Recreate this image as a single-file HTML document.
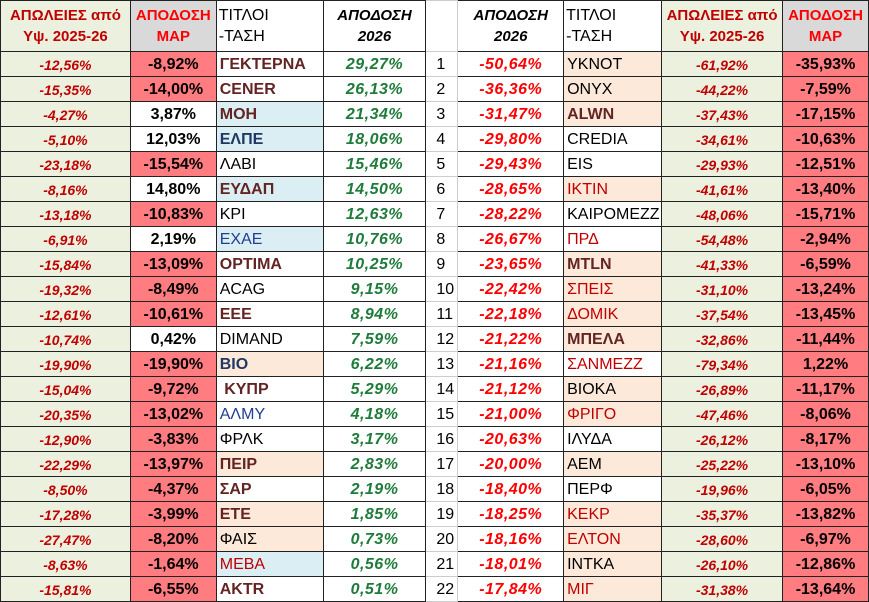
<!DOCTYPE html>
<html><head><meta charset="utf-8"><style>
body{margin:0;background:#fff;width:869px;height:602px;overflow:hidden;font-family:"Liberation Sans",Arial,sans-serif}
table{border-collapse:collapse;table-layout:fixed;position:absolute;left:0;top:0}
td{border:1px solid #222;padding:0;height:23px;font-size:15px;white-space:nowrap;overflow:hidden;padding-top:1px;line-height:20px}
tr.h td{height:50px;font-size:15px;font-weight:bold;text-align:center;line-height:21px;padding-top:0}
.c1{background:#EBF1DE;color:#C00000;font-weight:bold;font-style:italic;text-align:center;font-size:14px}
.c2{text-align:center;font-weight:bold;font-size:16px}
.r{background:#FF7C80}
.nm{padding-left:3px;font-size:16px}
.c4{text-align:center;color:#1E7B3A;font-weight:bold;font-style:italic;font-size:16px;letter-spacing:0.5px}
.c5{text-align:left;padding-left:10px;font-size:16px;border-color:#ccc}
.c6{text-align:center;color:#FF0000;font-weight:bold;font-style:italic;font-size:16px;letter-spacing:0.5px}
.b{background:#DAEEF3}.p{background:#FDE9D9}
.br{color:#632523;font-weight:bold}.db{color:#1F3864;font-weight:bold}.bl{color:#1F3F8F}.rd{color:#C00000}
</style></head><body>
<table>
<colgroup><col style="width:130px"><col style="width:86px"><col style="width:107px"><col style="width:103px"><col style="width:32px"><col style="width:106px"><col style="width:98px"><col style="width:121px"><col style="width:86px"></colgroup>
<tr class="h"><td style="background:#EBF1DE;color:#C00000">ΑΠΩΛΕΙΕΣ από<br>Υψ. 2025-26</td><td style="background:#D9D9D9;color:#FF0000">ΑΠΟΔΟΣΗ<br>MAP</td><td style="text-align:left;font-weight:normal;font-size:16px;padding-left:2px">ΤΙΤΛΟΙ<br>-ΤΑΣΗ</td><td style="font-style:italic">ΑΠΟΔΟΣΗ<br>2026</td><td style="border-color:#ccc"></td><td style="font-style:italic">ΑΠΟΔΟΣΗ<br>2026</td><td style="text-align:left;font-weight:normal;font-size:16px;padding-left:2px">ΤΙΤΛΟΙ<br>-ΤΑΣΗ</td><td style="background:#EBF1DE;color:#C00000">ΑΠΩΛΕΙΕΣ από<br>Υψ. 2025-26</td><td style="background:#D9D9D9;color:#FF0000">ΑΠΟΔΟΣΗ<br>MAP</td></tr>
<tr><td class="c1">-12,56%</td><td class="c2 r">-8,92%</td><td class="nm br">ΓΕΚΤΕΡΝΑ</td><td class="c4">29,27%</td><td class="c5">1</td><td class="c6">-50,64%</td><td class="nm p">YKNOT</td><td class="c1">-61,92%</td><td class="c2 r">-35,93%</td></tr>
<tr><td class="c1">-15,35%</td><td class="c2 r">-14,00%</td><td class="nm br">CENER</td><td class="c4">26,13%</td><td class="c5">2</td><td class="c6">-36,36%</td><td class="nm p">ONYX</td><td class="c1">-44,22%</td><td class="c2 r">-7,59%</td></tr>
<tr><td class="c1">-4,27%</td><td class="c2">3,87%</td><td class="nm br b">ΜΟΗ</td><td class="c4">21,34%</td><td class="c5">3</td><td class="c6">-31,47%</td><td class="nm p br">ALWN</td><td class="c1">-37,43%</td><td class="c2 r">-17,15%</td></tr>
<tr><td class="c1">-5,10%</td><td class="c2">12,03%</td><td class="nm db b">ΕΛΠΕ</td><td class="c4">18,06%</td><td class="c5">4</td><td class="c6">-29,80%</td><td class="nm">CREDIA</td><td class="c1">-34,61%</td><td class="c2 r">-10,63%</td></tr>
<tr><td class="c1">-23,18%</td><td class="c2 r">-15,54%</td><td class="nm">ΛΑΒΙ</td><td class="c4">15,46%</td><td class="c5">5</td><td class="c6">-29,43%</td><td class="nm">EIS</td><td class="c1">-29,93%</td><td class="c2 r">-12,51%</td></tr>
<tr><td class="c1">-8,16%</td><td class="c2">14,80%</td><td class="nm br b">ΕΥΔΑΠ</td><td class="c4">14,50%</td><td class="c5">6</td><td class="c6">-28,65%</td><td class="nm p rd">ΙΚΤΙΝ</td><td class="c1">-41,61%</td><td class="c2 r">-13,40%</td></tr>
<tr><td class="c1">-13,18%</td><td class="c2 r">-10,83%</td><td class="nm">KPI</td><td class="c4">12,63%</td><td class="c5">7</td><td class="c6">-28,22%</td><td class="nm">ΚΑΙΡΟΜΕΖΖ</td><td class="c1">-48,06%</td><td class="c2 r">-15,71%</td></tr>
<tr><td class="c1">-6,91%</td><td class="c2">2,19%</td><td class="nm bl b">ΕΧΑΕ</td><td class="c4">10,76%</td><td class="c5">8</td><td class="c6">-26,67%</td><td class="nm rd">ΠΡΔ</td><td class="c1">-54,48%</td><td class="c2 r">-2,94%</td></tr>
<tr><td class="c1">-15,84%</td><td class="c2 r">-13,09%</td><td class="nm br">OPTIMA</td><td class="c4">10,25%</td><td class="c5">9</td><td class="c6">-23,65%</td><td class="nm p br">MTLN</td><td class="c1">-41,33%</td><td class="c2 r">-6,59%</td></tr>
<tr><td class="c1">-19,32%</td><td class="c2 r">-8,49%</td><td class="nm">ACAG</td><td class="c4">9,15%</td><td class="c5">10</td><td class="c6">-22,42%</td><td class="nm p rd">ΣΠΕΙΣ</td><td class="c1">-31,10%</td><td class="c2 r">-13,24%</td></tr>
<tr><td class="c1">-12,61%</td><td class="c2 r">-10,61%</td><td class="nm br">EEE</td><td class="c4">8,94%</td><td class="c5">11</td><td class="c6">-22,18%</td><td class="nm p rd">ΔΟΜΙΚ</td><td class="c1">-37,54%</td><td class="c2 r">-13,45%</td></tr>
<tr><td class="c1">-10,74%</td><td class="c2">0,42%</td><td class="nm">DIMAND</td><td class="c4">7,59%</td><td class="c5">12</td><td class="c6">-21,22%</td><td class="nm p br">ΜΠΕΛΑ</td><td class="c1">-32,86%</td><td class="c2 r">-11,44%</td></tr>
<tr><td class="c1">-19,90%</td><td class="c2 r">-19,90%</td><td class="nm db p">ΒΙΟ</td><td class="c4">6,22%</td><td class="c5">13</td><td class="c6">-21,16%</td><td class="nm rd">ΣΑΝΜΕΖΖ</td><td class="c1">-79,34%</td><td class="c2 r">1,22%</td></tr>
<tr><td class="c1">-15,04%</td><td class="c2 r">-9,72%</td><td class="nm br">&nbsp;ΚΥΠΡ</td><td class="c4">5,29%</td><td class="c5">14</td><td class="c6">-21,12%</td><td class="nm p">ΒΙΟΚΑ</td><td class="c1">-26,89%</td><td class="c2 r">-11,17%</td></tr>
<tr><td class="c1">-20,35%</td><td class="c2 r">-13,02%</td><td class="nm bl">ΑΛΜΥ</td><td class="c4">4,18%</td><td class="c5">15</td><td class="c6">-21,00%</td><td class="nm p rd">ΦΡΙΓΟ</td><td class="c1">-47,46%</td><td class="c2 r">-8,06%</td></tr>
<tr><td class="c1">-12,90%</td><td class="c2 r">-3,83%</td><td class="nm">ΦΡΛΚ</td><td class="c4">3,17%</td><td class="c5">16</td><td class="c6">-20,63%</td><td class="nm">ΙΛΥΔΑ</td><td class="c1">-26,12%</td><td class="c2 r">-8,17%</td></tr>
<tr><td class="c1">-22,29%</td><td class="c2 r">-13,97%</td><td class="nm br p">ΠΕΙΡ</td><td class="c4">2,83%</td><td class="c5">17</td><td class="c6">-20,00%</td><td class="nm p">ΑΕΜ</td><td class="c1">-25,22%</td><td class="c2 r">-13,10%</td></tr>
<tr><td class="c1">-8,50%</td><td class="c2 r">-4,37%</td><td class="nm br">ΣΑΡ</td><td class="c4">2,19%</td><td class="c5">18</td><td class="c6">-18,40%</td><td class="nm">ΠΕΡΦ</td><td class="c1">-19,96%</td><td class="c2 r">-6,05%</td></tr>
<tr><td class="c1">-17,28%</td><td class="c2 r">-3,99%</td><td class="nm br p">ΕΤΕ</td><td class="c4">1,85%</td><td class="c5">19</td><td class="c6">-18,25%</td><td class="nm p rd">ΚΕΚΡ</td><td class="c1">-35,37%</td><td class="c2 r">-13,82%</td></tr>
<tr><td class="c1">-27,47%</td><td class="c2 r">-8,20%</td><td class="nm p">ΦΑΙΣ</td><td class="c4">0,73%</td><td class="c5">20</td><td class="c6">-18,16%</td><td class="nm p rd">ΕΛΤΟΝ</td><td class="c1">-28,60%</td><td class="c2 r">-6,97%</td></tr>
<tr><td class="c1">-8,63%</td><td class="c2 r">-1,64%</td><td class="nm rd b">ΜΕΒΑ</td><td class="c4">0,56%</td><td class="c5">21</td><td class="c6">-18,01%</td><td class="nm p">ΙΝΤΚΑ</td><td class="c1">-26,10%</td><td class="c2 r">-12,86%</td></tr>
<tr><td class="c1">-15,81%</td><td class="c2 r">-6,55%</td><td class="nm br">AKTR</td><td class="c4">0,51%</td><td class="c5">22</td><td class="c6">-17,84%</td><td class="nm p rd">ΜΙΓ</td><td class="c1">-31,38%</td><td class="c2 r">-13,64%</td></tr>
</table>
</body></html>
